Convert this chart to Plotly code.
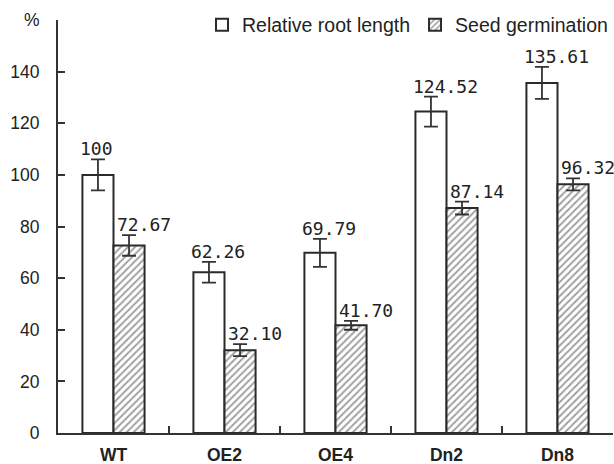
import plotly.graph_objects as go

categories = ["WT", "OE2", "OE4", "Dn2", "Dn8"]
root_length = [100, 62.26, 69.79, 124.52, 135.61]
root_err = [6.0, 4.0, 5.4, 5.8, 6.2]
root_text = ["100", "62.26", "69.79", "124.52", "135.61"]
germination = [72.67, 32.10, 41.70, 87.14, 96.32]
germ_err = [4.0, 2.3, 1.7, 2.5, 2.3]
germ_text = ["72.67", "32.10", "41.70", "87.14", "96.32"]
y_ticks = [0, 20, 40, 60, 80, 100, 120, 140, 160]
y_ticktext = ["0", "20", "40", "60", "80", "100", "120", "140", "%"]

BAR_W = 0.28
DARK = "#2a2a2a"

fig = go.Figure()
fig.add_trace(go.Bar(
    name="Relative root length", x=categories, y=root_length,
    width=BAR_W, offset=-BAR_W,
    marker=dict(color="white", line=dict(color=DARK, width=2)),
    error_y=dict(type="data", array=root_err, visible=True, color="#333", thickness=1.8, width=7),
))
fig.add_trace(go.Bar(
    name="Seed germination", x=categories, y=germination,
    width=BAR_W, offset=0,
    marker=dict(color="white", line=dict(color=DARK, width=2),
                pattern=dict(shape="/", fgcolor="#444", bgcolor="white", size=5, solidity=0.4)),
    error_y=dict(type="data", array=germ_err, visible=True, color="#333", thickness=1.8, width=7),
))

# invisible helper trace on a numeric axis to draw ticks between the category groups
fig.add_trace(go.Scatter(x=[0], y=[0], xaxis="x2", yaxis="y", mode="markers",
                         marker=dict(opacity=0), showlegend=False, hoverinfo="skip"))

for i in range(len(categories)):
    fig.add_annotation(x=i - BAR_W / 2, y=root_length[i] + root_err[i], text=root_text[i],
                       showarrow=False, xanchor="left", yanchor="bottom", xshift=-20, yshift=-2,
                       font=dict(family="DejaVu Sans Mono", size=18, color="#222"))
    fig.add_annotation(x=i + BAR_W / 2, y=germination[i] + germ_err[i], text=germ_text[i],
                       showarrow=False, xanchor="left", yanchor="bottom", xshift=-14, yshift=-2,
                       font=dict(family="DejaVu Sans Mono", size=18, color="#222"))

fig.update_layout(
    width=614, height=464,
    margin=dict(l=58, r=1, t=20, b=31, autoexpand=False),
    paper_bgcolor="white", plot_bgcolor="white",
    barmode="group",
    showlegend=True,
    legend=dict(orientation="h", x=1.0, xanchor="right", y=0.988, yanchor="middle",
                font=dict(family="Liberation Sans, Arial", size=19.5, color="#222"),
                bgcolor="rgba(0,0,0,0)", traceorder="normal"),
    xaxis=dict(range=[-0.5, 4.5], showline=True, linecolor="#333", linewidth=2,
               ticks="", automargin=False,
               tickfont=dict(family="Liberation Sans, Arial", size=17.5, color="#222", weight="bold"),
               ticklabelstandoff=5, showgrid=False, zeroline=False),
    xaxis2=dict(overlaying="x", anchor="y", side="bottom", range=[-0.5, 4.5],
                tickvals=[0.5, 1.5, 2.5, 3.5], showticklabels=False, automargin=False,
                ticks="inside", ticklen=7, tickwidth=2, tickcolor="#333",
                showline=False, showgrid=False, zeroline=False, layer="above traces"),
    yaxis=dict(range=[0, 160], tickvals=y_ticks, ticktext=y_ticktext,
               showline=True, linecolor="#333", linewidth=2, automargin=False,
               ticks="inside", ticklen=7, tickwidth=2, tickcolor="#333",
               tickfont=dict(family="Liberation Sans, Arial", size=17.5, color="#222"),
               ticklabelstandoff=13, showgrid=False, zeroline=False),
)

fig.write_html("out.html")
